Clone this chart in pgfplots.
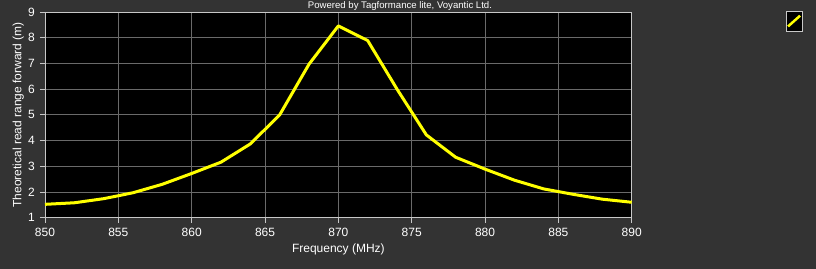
\documentclass[border=0pt]{standalone}
\usepackage{pgfplots}
\pgfplotsset{compat=1.18}
\usepackage{fontspec}
\setmainfont{Liberation Sans}
\definecolor{bgc}{HTML}{333333}
\definecolor{gridc}{HTML}{6A6A6A}
\definecolor{axc}{HTML}{C8C8C8}
\definecolor{ln}{HTML}{FFFF00}
\begin{document}
\begin{tikzpicture}[x=1bp,y=1bp]
\fill[bgc] (-45bp,-51.3bp) rectangle (771bp,217.7bp);
\path[use as bounding box] (-45bp,-51.3bp) rectangle (771bp,217.7bp);
\begin{axis}[
  at={(0,0)}, anchor=south west,
  scale only axis, width=586.7bp, height=205.7bp,
  xmin=850, xmax=890, ymin=1, ymax=9,
  xtick={850,855,...,890}, ytick={1,2,...,9},
  axis background/.style={fill=black},
  grid=major, major grid style={gridc, line width=0.8bp},
  axis line style={axc, line width=0.8bp},
  tick style={axc, line width=0.8bp},
  tick align=outside, major tick length=5bp,
  xtick pos=bottom, ytick pos=left,
  tick label style={white, font=\fontsize{12bp}{13bp}\selectfont},
  /pgf/number format/assume math mode=true,
  /pgf/number format/set thousands separator={},
  xticklabel style={inner sep=0pt, yshift=-5bp},
  yticklabel style={inner sep=0pt, xshift=-5bp},
  label style={white, font=\fontsize{12bp}{13bp}\selectfont},
  xlabel={Frequency (MHz)},
  ylabel={Theoretical read range forward (m)},
  xlabel style={at={(axis description cs:0.5,0)}, anchor=north, inner sep=0pt, yshift=-26bp},
  ylabel style={at={(axis description cs:0,0.5)}, anchor=south, inner sep=0pt, yshift=21bp},
  clip=false,
]
\addplot[ln, line width=3bp, line join=round] coordinates {
(850,1.52) (852,1.58) (854,1.74) (856,1.97) (858,2.30) (860,2.72)
(862,3.16) (864,3.87) (866,5.00) (868,6.97) (870,8.46) (872,7.89)
(874,6.00) (876,4.22) (878,3.35) (880,2.89) (882,2.46) (884,2.12)
(886,1.91) (888,1.72) (890,1.60)
};
\node[white, font=\fontsize{9.6bp}{10bp}\selectfont, anchor=base, inner sep=0pt, yshift=3bp] at (rel axis cs:0.605,1) {Powered by Tagformance lite, Voyantic Ltd.};
\draw[fill=black, draw=axc, line width=0.8bp] (rel axis cs:1.2631,1.0044) rectangle (rel axis cs:1.2904,0.9073);
\draw[ln, line width=2.5bp] (rel axis cs:1.2665,0.9300) -- (rel axis cs:1.2870,0.9820);
\end{axis}
\end{tikzpicture}
\end{document}
